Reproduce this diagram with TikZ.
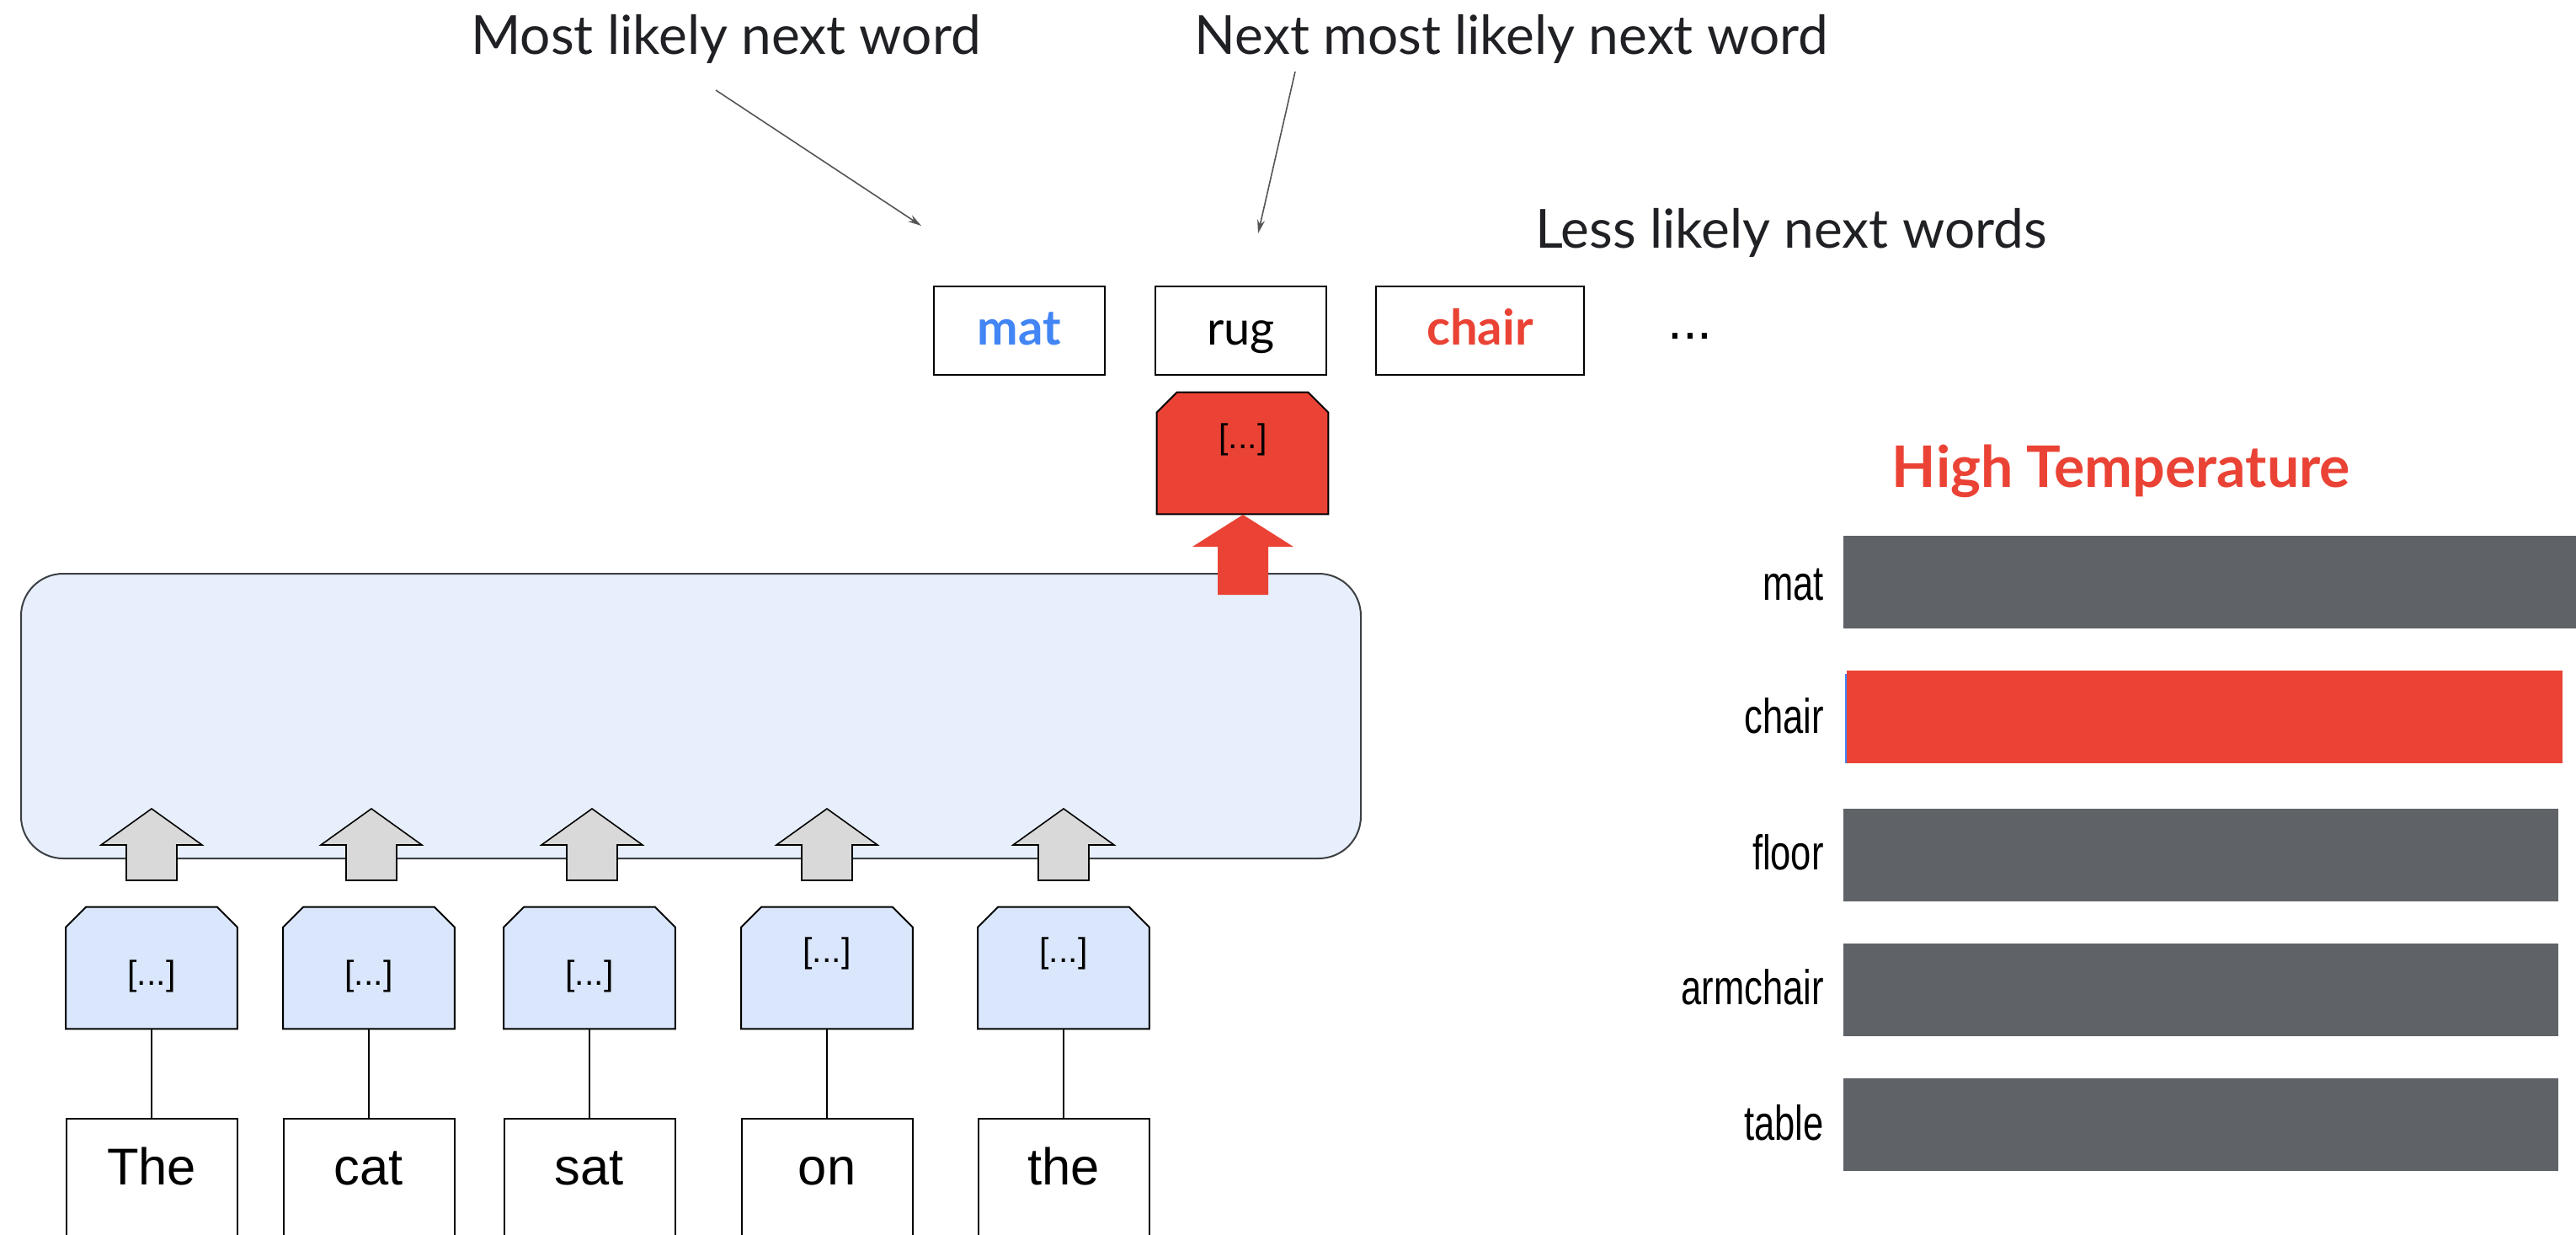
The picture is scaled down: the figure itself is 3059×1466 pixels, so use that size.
\documentclass[tikz,border=0pt]{standalone}
\usepackage{fontspec}
\setmainfont{Liberation Sans}
\newfontfamily\gsans{Lato}
\usetikzlibrary{arrows.meta}
\definecolor{gblue}{HTML}{4285F4}
\definecolor{gred}{HTML}{EA4335}
\definecolor{gtext}{HTML}{202124}
\definecolor{gbar}{HTML}{5F6368}
\definecolor{encfill}{HTML}{E8EFFC}
\definecolor{encline}{HTML}{3C4043}
\definecolor{pentfill}{HTML}{DAE6FB}
\definecolor{ggray}{HTML}{D9D9D9}
\definecolor{annot}{HTML}{555555}
\newcommand\pentpath[2]{\draw[line width=1pt, fill=#2] (#1.south west) -- ([yshift=-12pt]#1.north west) -- ([xshift=12pt]#1.north west) -- ([xshift=-12pt]#1.north east) -- ([yshift=-12pt]#1.north east) -- (#1.south east) -- cycle;}
\tikzset{
  toplabel/.style={font=\gsans\fontsize{32pt}{38pt}\selectfont, text=gtext, inner sep=0pt, anchor=base},
  outbox/.style={draw=black, line width=1pt, minimum width=101.5pt, inner sep=0pt, text height=34.5pt, text depth=18pt, anchor=north, font=\gsans\fontsize{28pt}{32pt}\selectfont},
  pentslot/.style={minimum width=101.5pt, minimum height=72pt, inner sep=0pt},
  ellip/.style={font=\fontsize{20.5pt}{24pt}\selectfont, inner sep=0pt, anchor=base},
  wordbox/.style={draw=black, line width=1pt, minimum width=101.5pt, inner sep=0pt, text height=39pt, text depth=60pt, anchor=north, font=\fontsize{30.75pt}{36pt}\selectfont},
  conn/.style={line width=0.6pt, black},
  annotarrow/.style={line width=0.8pt, annot, -{Stealth[length=8pt,width=4.5pt]}},
  barnode/.style={fill=gbar, draw=none, inner sep=0pt, minimum height=55pt, anchor=west},
  barlabel/.style={font=\fontsize{29pt}{34pt}\selectfont, inner sep=0pt, anchor=base east},
  blockarrow/.style={line width=0.8pt, draw=black, fill=ggray}
}
\begin{document}
\begin{tikzpicture}[x=0.5pt,y=-0.5pt]
\useasboundingbox (0,0) rectangle (3059,1466);
\clip (0,0) rectangle (3059,1466);
\fill[white] (0,0) rectangle (3059,1466);

% top annotations
\node[toplabel] (l1) at (862,65) {Most likely next word};
\node[toplabel] (l2) at (1795,65) {Next most likely next word};
\node[toplabel] (l3) at (2127,295) {Less likely next words};
\coordinate (a1s) at (850,107);
\coordinate (a1e) at (1094,268);
\coordinate (a2s) at (1538,85);
\coordinate (a2e) at (1494,277);
\draw[annotarrow] (a1s) -- (a1e);
\draw[annotarrow] (a2s) -- (a2e);

% output candidates
\node[outbox, text=gblue, font=\gsans\bfseries\fontsize{29pt}{32pt}\selectfont] (o1) at (1210.5,339) {mat};
\node[outbox, text=black] (o2) at (1473.5,339) {rug};
\node[outbox, text=gred, minimum width=123.5pt, font=\gsans\bfseries\fontsize{29pt}{32pt}\selectfont] (o3) at (1757.5,339) {chair};
\node[font=\fontsize{32pt}{36pt}\selectfont, inner sep=0pt, anchor=base] (dots) at (2007,402) {...};

% encoder block
\node[draw=encline, line width=1pt, fill=encfill, rounded corners=25pt, minimum width=795.5pt, minimum height=169pt, inner sep=0pt] (enc) at (820.5,850) {};

% red output pentagon and arrow
\node[pentslot] (r0) at (1475.5,538) {};
\pentpath{r0}{gred}
\node[ellip] (r0t) at (1476,532) {[...]};
\fill[gred] (1446,706) -- (1446,649) -- (1416,649) -- (1476,611) -- (1536,649) -- (1506,649) -- (1506,706) -- cycle;

% gray input arrows
\foreach \x in {180,441,703,982,1263}{
  \draw[blockarrow] (\x-30,1045) -- (\x-30,1003) -- (\x-60,1003) -- (\x,960) -- (\x+60,1003) -- (\x+30,1003) -- (\x+30,1045) -- cycle;
}

% embedding pentagons
\node[pentslot] (e1) at (180,1149) {};
\node[pentslot] (e2) at (438,1149) {};
\node[pentslot] (e3) at (700,1149) {};
\node[pentslot] (e4) at (982,1149) {};
\node[pentslot] (e5) at (1263,1149) {};
\pentpath{e1}{pentfill}
\pentpath{e2}{pentfill}
\pentpath{e3}{pentfill}
\pentpath{e4}{pentfill}
\pentpath{e5}{pentfill}
\node[ellip] (e1t) at (180,1169) {[...]};
\node[ellip] (e2t) at (438,1169) {[...]};
\node[ellip] (e3t) at (700,1169) {[...]};
\node[ellip] (e4t) at (982,1142) {[...]};
\node[ellip] (e5t) at (1263,1142) {[...]};

% input words
\node[wordbox] (w1) at (180,1327) {The};
\node[wordbox] (w2) at (438,1327) {cat};
\node[wordbox] (w3) at (700,1327) {sat};
\node[wordbox] (w4) at (982,1327) {on};
\node[wordbox] (w5) at (1263,1327) {the};
\draw[conn] (e1.south) -- (w1.north);
\draw[conn] (e2.south) -- (w2.north);
\draw[conn] (e3.south) -- (w3.north);
\draw[conn] (e4.south) -- (w4.north);
\draw[conn] (e5.south) -- (w5.north);

% right: temperature chart
\node[font=\gsans\bfseries\fontsize{34pt}{40pt}\selectfont, text=gred, inner sep=0pt, anchor=base] (ht) at (2519,578) {High Temperature};
\node[barnode, minimum width=445pt] (b1) at (2189,691) {};
\node[barnode, minimum width=425pt, fill=gred] (b2) at (2193,851) {};
\draw[gblue, line width=0.6pt] (2192,800) -- (2192,906);
\node[barnode, minimum width=424.5pt] (b3) at (2189,1015) {};
\node[barnode, minimum width=424.5pt] (b4) at (2189,1175) {};
\node[barnode, minimum width=424.5pt] (b5) at (2189,1335) {};
\node[barlabel] (t1) at (2166,712) {\scalebox{0.75}[1]{mat}};
\node[barlabel] (t2) at (2166,870) {\scalebox{0.75}[1]{chair}};
\node[barlabel] (t3) at (2166,1032) {\scalebox{0.75}[1]{floor}};
\node[barlabel] (t4) at (2166,1192) {\scalebox{0.75}[1]{armchair}};
\node[barlabel] (t5) at (2166,1353) {\scalebox{0.75}[1]{table}};
\end{tikzpicture}
\end{document}
